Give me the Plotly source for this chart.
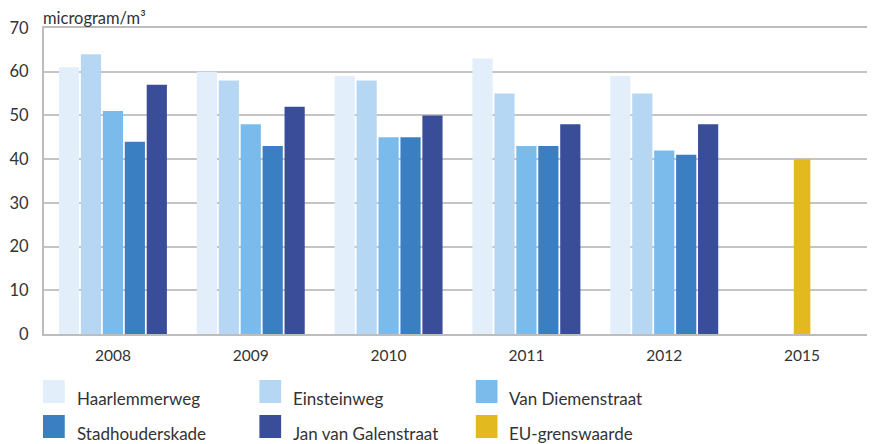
import plotly.graph_objects as go

years = ["2008", "2009", "2010", "2011", "2012", "2015"]
series_names = ["Haarlemmerweg", "Einsteinweg", "Van Diemenstraat",
                "Stadhouderskade", "Jan van Galenstraat", "EU-grenswaarde"]
haarlemmerweg = [61, 60, 59, 63, 59, None]
einsteinweg = [64, 58, 58, 55, 55, None]
van_diemenstraat = [51, 48, 45, 43, 42, None]
stadhouderskade = [44, 43, 45, 43, 41, None]
jan_van_galenstraat = [57, 52, 50, 48, 48, None]
eu_grenswaarde = [None, None, None, None, None, 40]
y_ticks = [0, 10, 20, 30, 40, 50, 60, 70]

colors = ["#E2EEFA", "#B5D7F3", "#7ABBEC", "#3B7FC3", "#3A4D98", "#E3B920"]
values = [haarlemmerweg, einsteinweg, van_diemenstraat,
          stadhouderskade, jan_van_galenstraat, eu_grenswaarde]

# page has an 8px body margin; work in page pixels and convert
OFF = 8
W, H = 875 - OFF, 444 - OFF
PL, PR, PT, PB = 36, 873, 28, 334          # plot area in page pixels
L, R, T, B = PL - OFF, (875 - PR), PT - OFF, (444 - PB)
pw, ph = PR - PL, PB - PT

FONT = "Lato, 'Open Sans', sans-serif"
TXT = "#333333"

fig = go.Figure()
for i, (name, vals, col) in enumerate(zip(series_names, values, colors)):
    kw = {}
    if name == "EU-grenswaarde":
        kw = dict(offset=-0.06, width=0.12)
    fig.add_trace(go.Bar(x=years, y=vals, name=name, marker_color=col,
                         marker_line_width=0, showlegend=False, **kw))

def px_x(p):
    return (p - PL) / pw

def px_y(p):
    return (PB - p) / ph

# custom legend (swatch + label), page pixel positions
col_x = [35, 254, 473]
row_y = [380, 415]
shapes = []
annotations = []
for i, (name, col) in enumerate(zip(series_names, colors)):
    r, c = divmod(i, 3)
    x0 = col_x[c]
    y0 = row_y[r]
    shapes.append(dict(type="rect", xref="paper", yref="paper",
                       x0=px_x(x0), x1=px_x(x0 + 22),
                       y0=px_y(y0 + 23), y1=px_y(y0),
                       fillcolor=col, line_width=0))
    annotations.append(dict(text=name, xref="paper", yref="paper",
                            x=px_x(x0 + 32), y=px_y(y0 + 18),
                            xanchor="left", yanchor="middle", showarrow=False,
                            font=dict(family=FONT, size=17, color=TXT)))

annotations.append(dict(text="microgram/m³", xref="paper", yref="paper",
                        x=px_x(33), y=px_y(18), xanchor="left", yanchor="middle",
                        showarrow=False, font=dict(family=FONT, size=16.5, color=TXT)))

fig.update_layout(
    width=W, height=H,
    margin=dict(l=L, r=R, t=T, b=B),
    paper_bgcolor="white", plot_bgcolor="white",
    barmode="group", bargap=0.204, bargroupgap=0.08,
    showlegend=False,
    shapes=shapes, annotations=annotations,
    font=dict(family=FONT, color=TXT),
    xaxis=dict(type="category", categoryorder="array", categoryarray=years,
               showgrid=False, showline=True, linecolor="#BDBDBD", linewidth=2,
               mirror=True, ticks="", tickfont=dict(size=15.5, color=TXT),
               ticklabelstandoff=6),
    yaxis=dict(range=[0, 70], tickvals=y_ticks, showgrid=True,
               gridcolor="#C4C4C4", gridwidth=1.8, zeroline=False,
               showline=True, linecolor="#BDBDBD", linewidth=2, mirror=True,
               ticks="", tickfont=dict(size=16.5, color=TXT), ticklabelstandoff=10),
)

fig.write_html("out.html")
